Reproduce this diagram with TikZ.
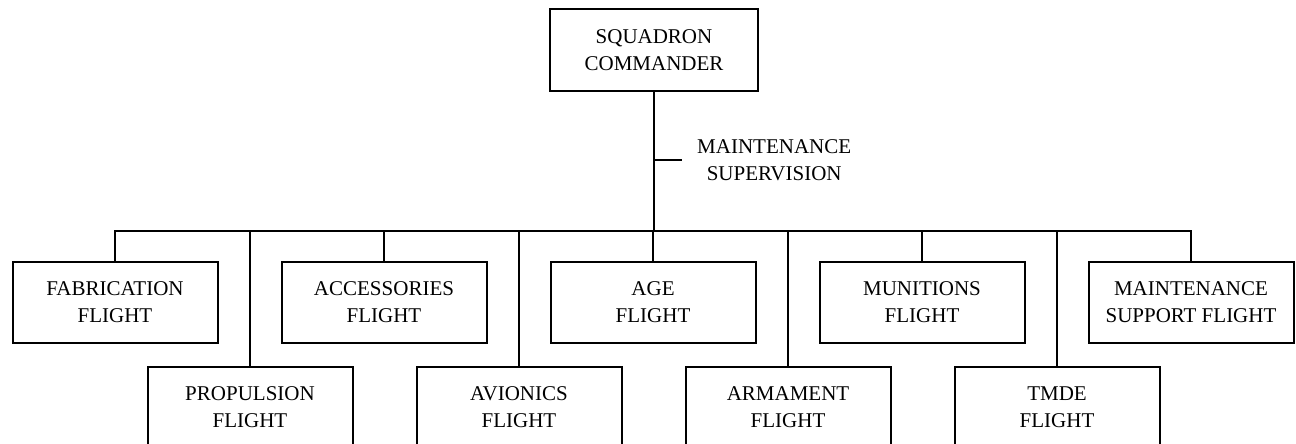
\documentclass[tikz,border=0pt]{standalone}
\usepackage{fontspec}
\setmainfont{Liberation Serif}
\usetikzlibrary{positioning}

\begin{document}
\begin{tikzpicture}[
  x=1pt, y=-1pt,
  unit/.style={rectangle, draw=black, line width=2pt, minimum width=205pt, minimum height=81pt, align=center, font=\fontsize{21}{27}\selectfont},
  label text/.style={align=center, inner xsep=15pt, inner ysep=0pt, font=\fontsize{21}{27}\selectfont},
  line/.style={draw=black, line width=2pt}
]
\useasboundingbox (0,0) rectangle (1296,444);
\clip (0,0) rectangle (1296,444);

% Dowodca
\node[unit, minimum width=208pt] (cmd) at (654,50) {SQUADRON\\COMMANDER};

% Pierwszy rzad
\node[unit] (fab) at (115,302) {FABRICATION\\FLIGHT};
\node[unit, right=62pt of fab] (acc) {ACCESSORIES\\FLIGHT};
\node[unit, right=62pt of acc] (age) {AGE\\FLIGHT};
\node[unit, right=62pt of age] (mun) {MUNITIONS\\FLIGHT};
\node[unit, right=62pt of mun] (msf) {MAINTENANCE\\SUPPORT FLIGHT};

% Drugi rzad
\node[unit] (prop) at (250,407) {PROPULSION\\FLIGHT};
\node[unit, right=62pt of prop] (avi) {AVIONICS\\FLIGHT};
\node[unit, right=62pt of avi] (arm) {ARMAMENT\\FLIGHT};
\node[unit, right=62pt of arm] (tmde) {TMDE\\FLIGHT};

% Nadzor
\coordinate (tick) at (654,160);
\node[label text, anchor=west] (sup) at (682,160) {MAINTENANCE\\SUPERVISION};
\coordinate (bus) at (654,231);

% Polaczenia
\draw[line] (cmd.south) -- (bus);
\draw[line] (tick) -- (sup.west);
\foreach \u in {fab, prop, acc, avi, age, arm, mun, tmde, msf}
  \draw[line] (bus) -| (\u.north);
\end{tikzpicture}
\end{document}
